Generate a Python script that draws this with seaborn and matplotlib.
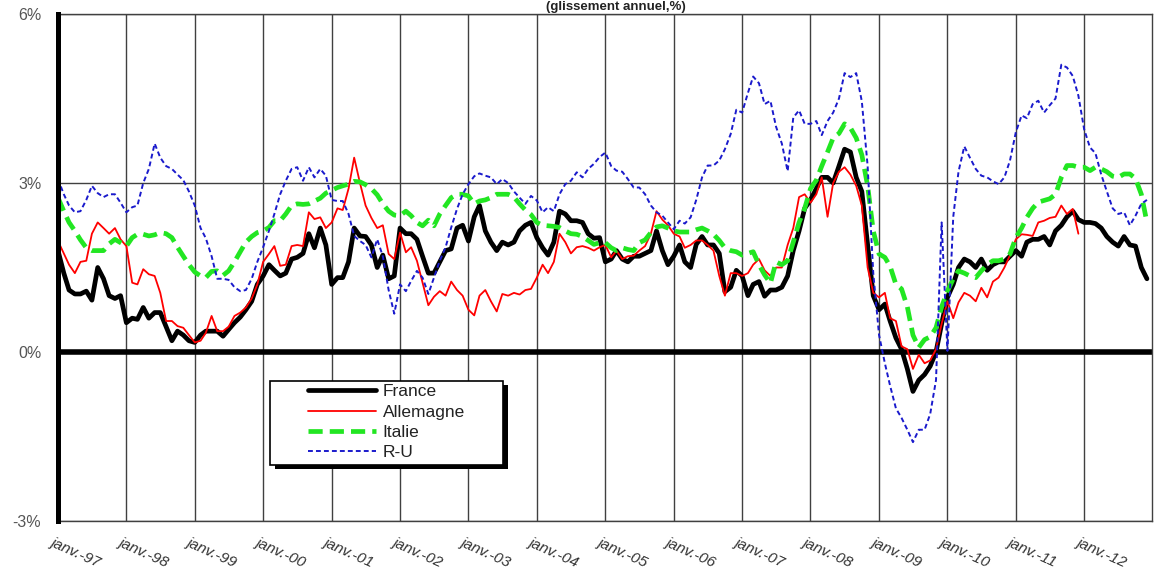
"""
Inflation en glissement annuel : France, Allemagne, Italie, R-U (1997-2012).
"""

import matplotlib
matplotlib.use("Agg")

import numpy as np
import pandas as pd
import matplotlib.pyplot as plt
import seaborn as sns
from matplotlib.patches import Rectangle
from matplotlib.transforms import ScaledTranslation

nan = np.nan

# ── Data (monthly, janv.-97 → déc.-12) ────────────────────────────────────────
dates = pd.date_range("1997-01-01", periods=192, freq="MS")

france = [
    1.8, 1.4, 1.1, 1.03, 1.03, 1.08, 0.92, 1.5, 1.3, 1.0, 0.95, 1.0,
    0.52, 0.6, 0.58, 0.79, 0.6, 0.7, 0.7, 0.45, 0.2, 0.37, 0.3, 0.2,
    0.17, 0.3, 0.37, 0.37, 0.37, 0.28, 0.4, 0.52, 0.62, 0.75, 0.9, 1.2,
    1.35, 1.55, 1.45, 1.35, 1.4, 1.65, 1.68, 1.75, 2.1, 1.85, 2.2, 1.9,
    1.2, 1.32, 1.32, 1.6, 2.2, 2.06, 2.05, 1.9, 1.5, 1.72, 1.3, 1.35,
    2.2, 2.1, 2.1, 2.0, 1.7, 1.4, 1.4, 1.6, 1.8, 1.83, 2.2, 2.25,
    1.97, 2.4, 2.6, 2.15, 1.95, 1.8, 1.95, 1.9, 1.95, 2.15, 2.25, 2.3,
    2.03, 1.85, 1.72, 1.95, 2.5, 2.45, 2.33, 2.33, 2.3, 2.1, 2.02, 2.03,
    1.6, 1.65, 1.8, 1.65, 1.6, 1.7, 1.7, 1.75, 1.8, 2.15, 1.8, 1.55,
    1.7, 1.9, 1.6, 1.5, 1.91, 2.05, 1.9, 1.9, 1.75, 1.07, 1.15, 1.45,
    1.35, 1.0, 1.2, 1.25, 0.99, 1.1, 1.1, 1.15, 1.35, 1.8, 2.15, 2.55,
    2.7, 2.9, 3.1, 3.1, 3.0, 3.3, 3.6, 3.55, 3.1, 2.85, 1.9, 1.0,
    0.75, 0.85, 0.55, 0.25, 0.05, -0.3, -0.7, -0.5, -0.4, -0.25, 0.0, 0.5,
    0.97, 1.2, 1.5, 1.65, 1.6, 1.5, 1.65, 1.45, 1.55, 1.6, 1.6, 1.7,
    1.8, 1.7, 1.95, 2.0, 2.0, 2.05, 1.9, 2.15, 2.25, 2.4, 2.5, 2.35,
    2.3, 2.3, 2.28, 2.2, 2.05, 1.95, 1.88, 2.05, 1.9, 1.88, 1.5, 1.3,
]

allemagne = [
    1.97, 1.75, 1.55, 1.4, 1.6, 1.62, 2.1, 2.3, 2.2, 2.1, 2.2, 2.0,
    1.88, 1.23, 1.2, 1.47, 1.38, 1.35, 1.05, 0.55, 0.55, 0.46, 0.43, 0.3,
    0.17, 0.2, 0.34, 0.64, 0.37, 0.37, 0.45, 0.64, 0.7, 0.79, 0.95, 1.2,
    1.6, 1.74, 1.88, 1.53, 1.55, 1.88, 1.9, 1.88, 2.48, 2.36, 2.39, 2.2,
    2.3, 2.55, 2.52, 2.9, 3.45, 3.0, 2.6, 2.38, 2.2, 2.25, 1.74, 1.65,
    2.12, 1.77, 1.86, 1.62, 1.23, 0.83, 0.98, 1.08, 1.0, 1.25, 1.1, 1.0,
    0.75, 0.65, 1.0, 1.1, 0.9, 0.72, 1.03, 1.0, 1.05, 1.02, 1.1, 1.12,
    1.32, 1.55, 1.4, 1.6, 2.1, 1.95, 1.75, 1.86, 1.88, 1.85, 1.8, 1.86,
    1.9, 1.68, 1.8, 1.65, 1.7, 1.71, 1.8, 1.88, 2.1, 2.5, 2.35, 2.25,
    2.1, 2.05, 1.85, 1.9, 1.98, 1.98, 1.9, 1.8, 1.35, 1.0, 1.4, 1.4,
    1.35, 1.4, 1.55, 1.65, 1.45, 1.35, 1.5, 1.5, 1.9, 2.2, 2.75, 2.8,
    2.65, 2.8, 3.1, 2.4, 3.0, 3.2, 3.28, 3.15, 2.95, 2.6, 1.5, 1.05,
    0.97, 1.05, 0.6, 0.55, 0.1, 0.05, -0.3, -0.05, -0.2, -0.15, 0.05, 0.5,
    0.9, 0.6, 0.88, 1.05, 1.0, 0.9, 1.14, 0.97, 1.25, 1.32, 1.5, 1.72,
    2.0, 2.09, 2.08, 2.06, 2.3, 2.33, 2.38, 2.4, 2.6, 2.45, 2.54, 2.1,
    nan, nan, nan, nan, nan, nan, nan, nan, nan, nan, nan, nan,
]

italie = [
    2.74, 2.5, 2.3, 2.15, 1.99, 1.85, 1.8, 1.8, 1.8, 1.92, 2.0, 1.94,
    1.88, 2.03, 2.09, 2.09, 2.06, 2.08, 2.12, 2.1, 2.03, 1.86, 1.7, 1.55,
    1.42, 1.35, 1.32, 1.43, 1.44, 1.36, 1.44, 1.6, 1.78, 1.95, 2.05, 2.12,
    2.15, 2.21, 2.33, 2.33, 2.45, 2.6, 2.63, 2.62, 2.63, 2.68, 2.73, 2.82,
    2.87, 2.92, 2.95, 2.98, 3.03, 3.02, 2.97, 2.9, 2.79, 2.63, 2.5, 2.43,
    2.42, 2.5, 2.42, 2.3, 2.24, 2.34, 2.24, 2.45, 2.6, 2.74, 2.8, 2.8,
    2.77, 2.63, 2.68, 2.7, 2.74, 2.8, 2.8, 2.8, 2.75, 2.63, 2.52, 2.44,
    2.3, 2.25, 2.24, 2.23, 2.21, 2.15, 2.1, 2.09, 2.05, 1.98, 1.91, 1.94,
    1.94, 1.85, 1.8, 1.85, 1.82, 1.8, 1.94, 1.99, 2.12, 2.22, 2.24, 2.2,
    2.15, 2.13, 2.13, 2.13, 2.17, 2.2, 2.15, 2.09, 1.98, 1.85, 1.8, 1.78,
    1.72, 1.75, 1.78, 1.55, 1.37, 1.22, 1.6, 1.55, 1.62, 1.95, 2.3, 2.55,
    2.9, 3.05, 3.3, 3.55, 3.8, 3.88, 4.05, 3.98, 3.8, 3.5, 2.95, 2.15,
    1.74, 1.68, 1.52, 1.2, 1.12, 0.8, 0.3, 0.08, 0.22, 0.27, 0.43, 0.8,
    1.08, 1.3, 1.44, 1.4, 1.35, 1.32, 1.44, 1.55, 1.62, 1.62, 1.65, 1.74,
    2.03, 2.2, 2.39, 2.55, 2.66, 2.69, 2.72, 2.8, 3.1, 3.31, 3.31, 3.28,
    3.28, 3.22, 3.28, 3.25, 3.2, 3.12, 3.1, 3.16, 3.16, 3.08, 2.8, 2.3,
]

r_u = [
    3.07, 2.8, 2.6, 2.48, 2.5, 2.7, 2.95, 2.82, 2.75, 2.8, 2.8, 2.65,
    2.48, 2.57, 2.6, 3.0, 3.25, 3.7, 3.45, 3.3, 3.25, 3.15, 3.05, 2.85,
    2.6, 2.2, 2.02, 1.7, 1.3, 1.3, 1.28, 1.15, 1.08, 1.1, 1.3, 1.6,
    1.86, 2.15, 2.45, 2.8, 3.04, 3.25, 3.28, 3.04, 3.28, 3.1, 3.25, 3.13,
    2.7, 2.68, 2.68, 2.45, 2.06, 1.97, 1.9, 1.68, 2.0, 1.7, 1.1, 0.68,
    1.2, 1.08, 1.26, 1.44, 1.32, 1.03, 1.32, 1.62, 1.86, 2.21, 2.54, 2.8,
    2.98, 3.12, 3.17, 3.13, 3.1, 2.98, 3.07, 3.0, 2.85, 2.74, 2.63, 2.77,
    2.69, 2.48, 2.57, 2.5, 2.8, 2.98, 3.04, 3.19, 3.1, 3.25, 3.34, 3.46,
    3.54, 3.3, 3.22, 3.2, 3.07, 2.92, 2.92, 2.8, 2.6, 2.48, 2.42, 2.3,
    2.18, 2.33, 2.28, 2.39, 2.7, 3.1, 3.31, 3.31, 3.4, 3.6, 3.87, 4.3,
    4.25, 4.6, 4.89, 4.77, 4.4, 4.46, 4.0, 3.7, 3.21, 4.16, 4.29, 4.05,
    4.05, 4.1, 3.85, 4.1, 4.25, 4.5, 4.95, 4.88, 4.95, 4.45, 3.3, 1.4,
    0.3, -0.2, -0.6, -1.0, -1.17, -1.38, -1.6, -1.38, -1.38, -1.1, -0.5, 2.3,
    0.02, 2.4, 3.2, 3.65, 3.45, 3.25, 3.13, 3.1, 3.03, 2.98, 3.1, 3.4,
    3.9, 4.2, 4.15, 4.4, 4.46, 4.25, 4.38, 4.5, 5.1, 5.05, 4.9, 4.55,
    3.95, 3.63, 3.53, 3.15, 2.85, 2.55, 2.45, 2.48, 2.25, 2.42, 2.63, 2.7,
]

pays = ["France", "Allemagne", "Italie", "R-U"]
y_ticks = [-3, 0, 3, 6]
y_labels = ["-3%", "0%", "3%", "6%"]
x_ticks = pd.date_range("1997-01-01", "2012-01-01", freq="YS")
x_labels = [f"janv.-{d.year % 100:02d}" for d in x_ticks]

df = pd.DataFrame({"date": dates, "France": france, "Allemagne": allemagne,
                   "Italie": italie, "R-U": r_u})
long_df = df.melt(id_vars="date", var_name="pays", value_name="val").dropna()

# ── Styles ────────────────────────────────────────────────────────────────────
STYLES = {
    "France":    dict(color="black",   linewidth=3.4, linestyle="-"),
    "Allemagne": dict(color="#ff0000", linewidth=1.3, linestyle="-"),
    "Italie":    dict(color="#22e622", linewidth=3.4, linestyle=(0, (3, 1.5))),
    "R-U":       dict(color="#1a1acc", linewidth=1.4, linestyle=(0, (2.5, 1.6))),
}

sns.set_style("white")
plt.rcParams["font.family"] = ["Liberation Sans", "DejaVu Sans"]

fig = plt.figure(figsize=(11.6, 5.77), dpi=100)
ax = fig.add_axes([58 / 1160, 56 / 577, 1094 / 1160, 507 / 577])

for name in pays:
    sns.lineplot(data=long_df[long_df["pays"] == name], x="date", y="val",
                 errorbar=None, label=name, legend=False, ax=ax, zorder=3,
                 **STYLES[name])

# zero line and frame
ax.axhline(0, color="black", lw=4, zorder=2.5)
ax.set_ylim(-3, 6)
ax.set_xlim(pd.Timestamp("1997-01-01"), pd.Timestamp("2012-12-28"))
ax.set_xlabel("")
ax.set_ylabel("")

ax.set_yticks(y_ticks)
ax.set_yticklabels(y_labels)
ax.set_xticks(x_ticks)
ax.set_xticklabels(x_labels)

ax.grid(True, color="#404040", lw=1.0)
ax.set_axisbelow(True)
for s in ["top", "right", "bottom"]:
    ax.spines[s].set_color("#404040")
    ax.spines[s].set_linewidth(1.0)
ax.spines["left"].set_color("black")
ax.spines["left"].set_linewidth(3.6)
ax.spines["left"].set_zorder(4)

ax.tick_params(axis="y", length=0, pad=12, labelsize=11.5, labelcolor="#555555")
ax.tick_params(axis="x", length=0, pad=10, labelsize=11, labelcolor="#333333")
shift = ScaledTranslation(-4 / 100, 0, fig.dpi_scale_trans)
for lab in ax.get_xticklabels():
    lab.set_rotation(-24)
    lab.set_ha("left")
    lab.set_va("top")
    lab.set_rotation_mode("anchor")
    lab.set_fontstyle("italic")
    lab.set_transform(lab.get_transform() + shift)

# title, squeezed into the strip above the plot
fig.text(0.531, 1 - 1 / 577, "(glissement annuel,%)", ha="center",
         va="top", fontsize=9.5, fontweight="bold", color="#222222")

# ── Legend with a hard black shadow ───────────────────────────────────────────
ax.add_patch(Rectangle((0.1984, 0.1026), 0.2130, 0.1657, transform=ax.transAxes,
                       facecolor="black", edgecolor="none", zorder=6))
ax.add_patch(Rectangle((0.1938, 0.1105), 0.2130, 0.1657, transform=ax.transAxes,
                       facecolor="white", edgecolor="black", lw=1.2, zorder=7))
handles, labels = ax.get_legend_handles_labels()
leg = ax.legend(handles, labels, loc="upper left", bbox_to_anchor=(0.2285, 0.270),
                frameon=False, borderpad=0, borderaxespad=0, fontsize=12.5,
                handlelength=3.9, handletextpad=0.4, labelspacing=0.3)
leg.set_zorder(8)
for t in leg.get_texts():
    t.set_color("#222222")

fig.savefig("out.png", dpi=100)
plt.close()
